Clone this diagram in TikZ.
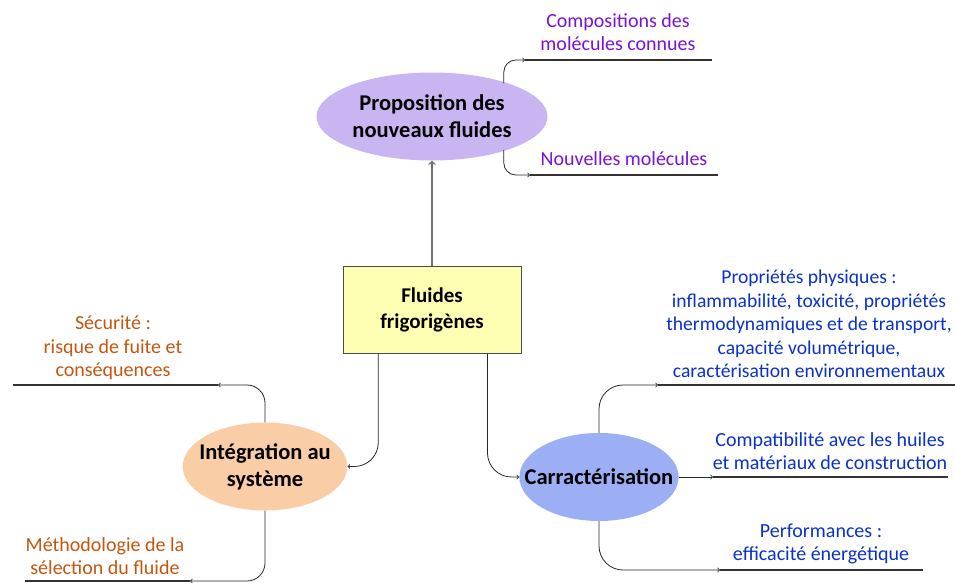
\documentclass[tikz,border=0pt]{standalone}
\usepackage{fontspec}
\setmainfont{Carlito}
\usetikzlibrary{shapes.geometric, arrows, positioning, calc}

\definecolor{boxfill}{HTML}{FFFFB4}
\definecolor{propfill}{HTML}{C9B5F2}
\definecolor{integfill}{HTML}{F9CDA6}
\definecolor{carfill}{HTML}{9CAFF5}
\definecolor{proptext}{HTML}{7A12D6}
\definecolor{integtext}{HTML}{C4560E}
\definecolor{cartext}{HTML}{0A32C8}

\tikzset{
  bubble/.style={ellipse, inner sep=0pt, minimum height=88pt, font=\fontsize{22.5}{27}\selectfont\bfseries, align=center},
  leaf/.style={align=center, font=\fontsize{20}{23.5}\selectfont, inner sep=0pt},
  bar/.style={line width=2.6pt, color=black!80},
  branch/.style={->, >=to, line width=0.8pt, rounded corners=18pt, color=black!85},
}

\begin{document}
\begin{tikzpicture}[x=1pt, y=-1pt]
			\useasboundingbox (0,0) rectangle (955,583);
			
			\node[draw=black!70, line width=1pt, fill=boxfill, minimum width=178pt, minimum height=87pt, font=\fontsize{21}{26}\selectfont\bfseries, align=center] at (432,309.5) (fluides){Fluides\\frigorigènes};
			
			\node[bubble, fill=propfill, minimum width=231pt] at (432,116.5) (prop){Proposition des\\nouveaux fluides};
			\node[bubble, fill=integfill, minimum width=162pt, inner xsep=-7.5pt] at (265,466.5) (integ){Intégration au\\système};
			\node[bubble, fill=carfill, minimum width=158pt, inner xsep=-18pt] at (599,477) (car){Carractérisation};
			
			% centre vers les trois themes
			\draw[->, >=to, line width=1.6pt, black!55] (fluides.north) -- (prop.south);
			\draw[branch, rounded corners=24pt] ($(fluides.south west)!0.2!(fluides.south east)$) |- (integ.east);
			\draw[branch, rounded corners=24pt] ($(fluides.south west)!0.81!(fluides.south east)$) |- (car.west);
			
			% proposition
			\coordinate (p1) at (525,60); \coordinate (p1e) at (712,60);
			\coordinate (p2) at (530,175); \coordinate (p2e) at (718,175);
			\draw[branch, rounded corners=12pt] ($(prop.north east)+(-10,-2)$) |- (p1);
			\draw[branch, rounded corners=12pt] ($(prop.south east)+(-10,2)$) |- (p2);
			\draw[bar] (p1) -- (p1e);
			\draw[bar] (p2) -- (p2e);
			\node[leaf, proptext] at (618,32) (compo){Compositions des\\molécules connues};
			\node[leaf, proptext] at (624,159) (nouv){Nouvelles molécules};
			
			% integration
			\coordinate (i1) at (218,385); \coordinate (i1e) at (13,385);
			\coordinate (i2) at (190,581); \coordinate (i2e) at (25,581);
			\draw[branch] (integ.north) |- (i1);
			\draw[branch] (integ.south) |- (i2);
			\draw[bar] (i1) -- (i1e);
			\draw[bar] (i2) -- (i2e);
			\node[leaf, integtext] at (113,348) (secu){Sécurité :\\risque de fuite et\\conséquences};
			\node[leaf, integtext] at (105,556) (metho){Méthodologie de la\\sélection du fluide};
			
			% caracterisation
			\coordinate (c1) at (658,385); \coordinate (c1e) at (955,385);
			\coordinate (c2) at (713,477); \coordinate (c2e) at (948,477);
			\coordinate (c3) at (720,570); \coordinate (c3e) at (923,570);
			\draw[branch, rounded corners=24pt] (car.north) |- (c1);
			\draw[branch] (car.east) -- (c2);
			\draw[branch, rounded corners=24pt] (car.south) |- (c3);
			\draw[bar] (c1) -- (c1e);
			\draw[bar] (c2) -- (c2e);
			\draw[bar] (c3) -- (c3e);
			\node[leaf, cartext, font=\fontsize{19.6}{23.5}\selectfont] at (809,324) (phys){Propriétés physiques :\\inflammabilité, toxicité, propriétés\\thermodynamiques et de transport,\\capacité volumétrique,\\caractérisation environnementaux};
			\node[leaf, cartext] at (830,451) (compat){Compatibilité avec les huiles\\et matériaux de construction};
			\node[leaf, cartext] at (821,544) (perf){Performances :\\efficacité énergétique};
			\end{tikzpicture}
\end{document}
